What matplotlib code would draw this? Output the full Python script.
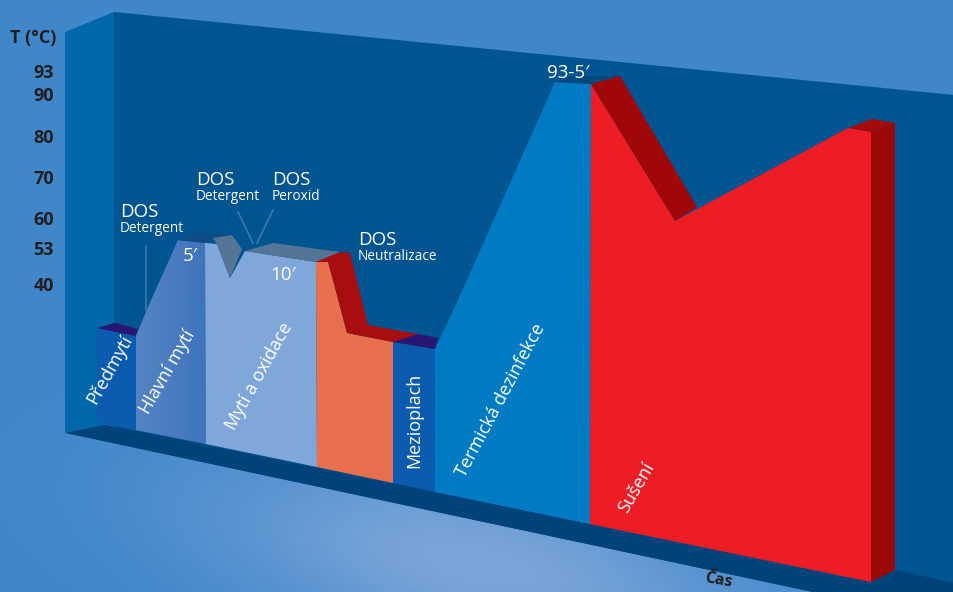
import matplotlib
matplotlib.use('Agg')
import matplotlib.pyplot as plt
from matplotlib.patches import Polygon
import numpy as np

plt.rcParams['font.family'] = ['Open Sans', 'DejaVu Sans']

# temperature axis, positions as they sit on the slanted drawing (image px)
temp_labels = ['93', '90', '80', '70', '60', '53', '40']
temp_y = [72, 95, 137, 178, 219, 249, 285]

# back wall, side wall and floor
wall_x = [114, 954, 954, 813, 114]
wall_y = [12, 95, 592, 592, 443]
side_x = [65, 114, 114, 65]
side_y = [32, 12, 423, 433]
floor_x = [65, 97, 435, 590, 871, 895, 954, 954, 813]
floor_y = [433, 423, 492, 524, 582, 570, 583, 592, 592]

# front faces of the phases
predmyti_x = [97, 136, 136, 97]
predmyti_y = [328, 336, 430, 423]
hlavni_x = [136, 148, 178, 205, 206, 136]
hlavni_y = [336, 307, 240, 243, 444, 430]
oxidace_x = [205, 217, 230, 245, 316, 317, 206]
oxidace_y = [243, 244, 278, 251, 262, 467, 444]
neutral_x = [316, 328, 333, 347, 393, 393, 317]
neutral_y = [262, 262, 280, 333, 342, 483, 467]
meziplach_x = [393, 435, 435, 393]
meziplach_y = [342, 349, 492, 483]
termicka_x = [435, 458, 555, 591, 590, 435]
termicka_y = [349, 300, 82, 84, 524, 492]
suseni_x = [591, 675, 848, 871, 871, 590]
suseni_y = [84, 221, 128, 132, 582, 524]

# top and side faces that give the depth
depth_faces = [
    ([97, 115, 138, 135], [328, 323, 329, 336], '#2a1672'),
    ([178, 195, 233, 205], [240, 232, 235, 243], '#0e4c86'),
    ([213, 232, 242, 230, 217], [238, 235, 249, 278, 244], '#557596'),
    ([245, 273, 340, 316], [251, 243, 252, 262], '#557596'),
    ([316, 340, 350, 368, 422, 393, 347, 333, 328],
     [262, 252, 253, 325, 335, 342, 333, 280, 262], '#a80d10'),
    ([393, 418, 438, 435], [342, 334, 338, 349], '#2a1672'),
    ([555, 570, 620, 591], [82, 76, 76, 84], '#00497f'),
    ([591, 620, 697, 675], [84, 76, 207, 221], '#a00709'),
    ([848, 872, 895, 871], [128, 119, 123, 132], '#a60b0c'),
    ([871, 895, 895, 871], [132, 123, 570, 582], '#9c0809'),
]

# rotated phase names
phase_names = ['Předmytí', 'Hlavní mytí', 'Mytí a oxidace', 'Mezioplach',
               'Termická dezinfekce', 'Sušení']
phase_x = [110, 168, 259, 414, 501, 636]
phase_y = [369, 372, 376, 420, 400, 488]
phase_rot = [61, 60, 61, 90, 62, 60]

# dosing labels
dos_names = ['Detergent', 'Detergent', 'Peroxid', 'Neutralizace']
dos_x = [120, 196, 272, 358]
dos_y = [212, 180, 180, 240]

# hold times
hold_labels = ['5′', '10′', '93-5′']
hold_x = [190, 283, 568]
hold_y = [256, 275, 73]


def main():
    fig = plt.figure(figsize=(9.54, 5.92), dpi=100)
    ax = fig.add_axes([0, 0, 1, 1])
    ax.set_xlim(0, 954)
    ax.set_ylim(592, 0)
    ax.axis('off')

    # background, a soft light band running along the floor
    xx, yy = np.meshgrid(np.arange(954), np.arange(592))
    c, s = 0.978, 0.208
    u = (xx - 480) * c + (yy - 565) * s
    v = -(xx - 480) * s + (yy - 565) * c
    glow = np.exp(-((u / 270.0) ** 2 + (v / 95.0) ** 2))
    base = np.array([0x3f, 0x87, 0xc9]) / 255
    light = np.array([0x7c, 0xa5, 0xda]) / 255
    bg = base + glow[..., None] * (light - base)
    ax.imshow(bg, extent=(0, 954, 592, 0), aspect='auto', zorder=0)

    def face(x, y, color, z=2):
        ax.add_patch(Polygon(list(zip(x, y)), closed=True, facecolor=color,
                             edgecolor='none', zorder=z))

    face(wall_x, wall_y, '#00548f', 1)
    face(floor_x, floor_y, '#00437a', 1.5)
    face(side_x, side_y, '#0068aa', 1.6)

    # main wash phase has a soft horizontal shade
    hl = Polygon(list(zip(hlavni_x, hlavni_y)), closed=True, facecolor='none',
                 edgecolor='none', zorder=2)
    ax.add_patch(hl)
    shade = np.linspace(0, 1, 80)[None, :, None]
    left = np.array([0x55, 0x84, 0xc4]) / 255
    right = np.array([0x3f, 0x74, 0xbb]) / 255
    im = ax.imshow(left + shade * (right - left), extent=(136, 206, 444, 240),
                   aspect='auto', zorder=2)
    im.set_clip_path(hl)

    face(predmyti_x, predmyti_y, '#0b5cae')
    face(oxidace_x, oxidace_y, '#7fa7da')
    face(neutral_x, neutral_y, '#e8704e')
    face(meziplach_x, meziplach_y, '#0b5cae')
    face(termicka_x, termicka_y, '#007ac2')
    face(suseni_x, suseni_y, '#ee1c25')

    for x, y, color in depth_faces:
        face(x, y, color, 2.5)

    # leader lines from the dosing labels
    line_c = '#3a78b0'
    ax.plot([146, 146], [246, 310], color=line_c, lw=1.2, zorder=1.8)
    ax.plot([238, 253], [212, 243], color=line_c, lw=1.2, zorder=1.8)
    ax.plot([273, 257], [210, 243], color=line_c, lw=1.2, zorder=1.8)

    # axis text
    dark = '#231f20'
    ax.text(10, 38, 'T (°C)', fontsize=13, fontweight='bold', color=dark,
            ha='left', va='center', zorder=5)
    for lab, y in zip(temp_labels, temp_y):
        ax.text(54, y + 1, lab, fontsize=13, fontweight='bold', color=dark,
                ha='right', va='center', zorder=5)
    ax.text(718, 580, 'Čas', fontsize=11.5, fontweight='bold', color=dark,
            ha='center', va='center', rotation=-10, zorder=5)

    for name, x, y, rot in zip(phase_names, phase_x, phase_y, phase_rot):
        ax.text(x, y, name, fontsize=13, color='white', ha='center', va='center',
                rotation=rot, rotation_mode='anchor', zorder=5)

    for name, x, y in zip(dos_names, dos_x, dos_y):
        ax.text(x, y, 'DOS', fontsize=13.5, color='white', ha='left', va='center', zorder=5)
        ax.text(x, y + 16, name, fontsize=9.8, color='white', ha='left', va='center', zorder=5)

    for lab, x, y in zip(hold_labels, hold_x, hold_y):
        ax.text(x, y, lab, fontsize=13.5, color='white', ha='center', va='center', zorder=5)

    fig.savefig('out.png', dpi=100)
    plt.close(fig)


if __name__ == '__main__':
    main()
